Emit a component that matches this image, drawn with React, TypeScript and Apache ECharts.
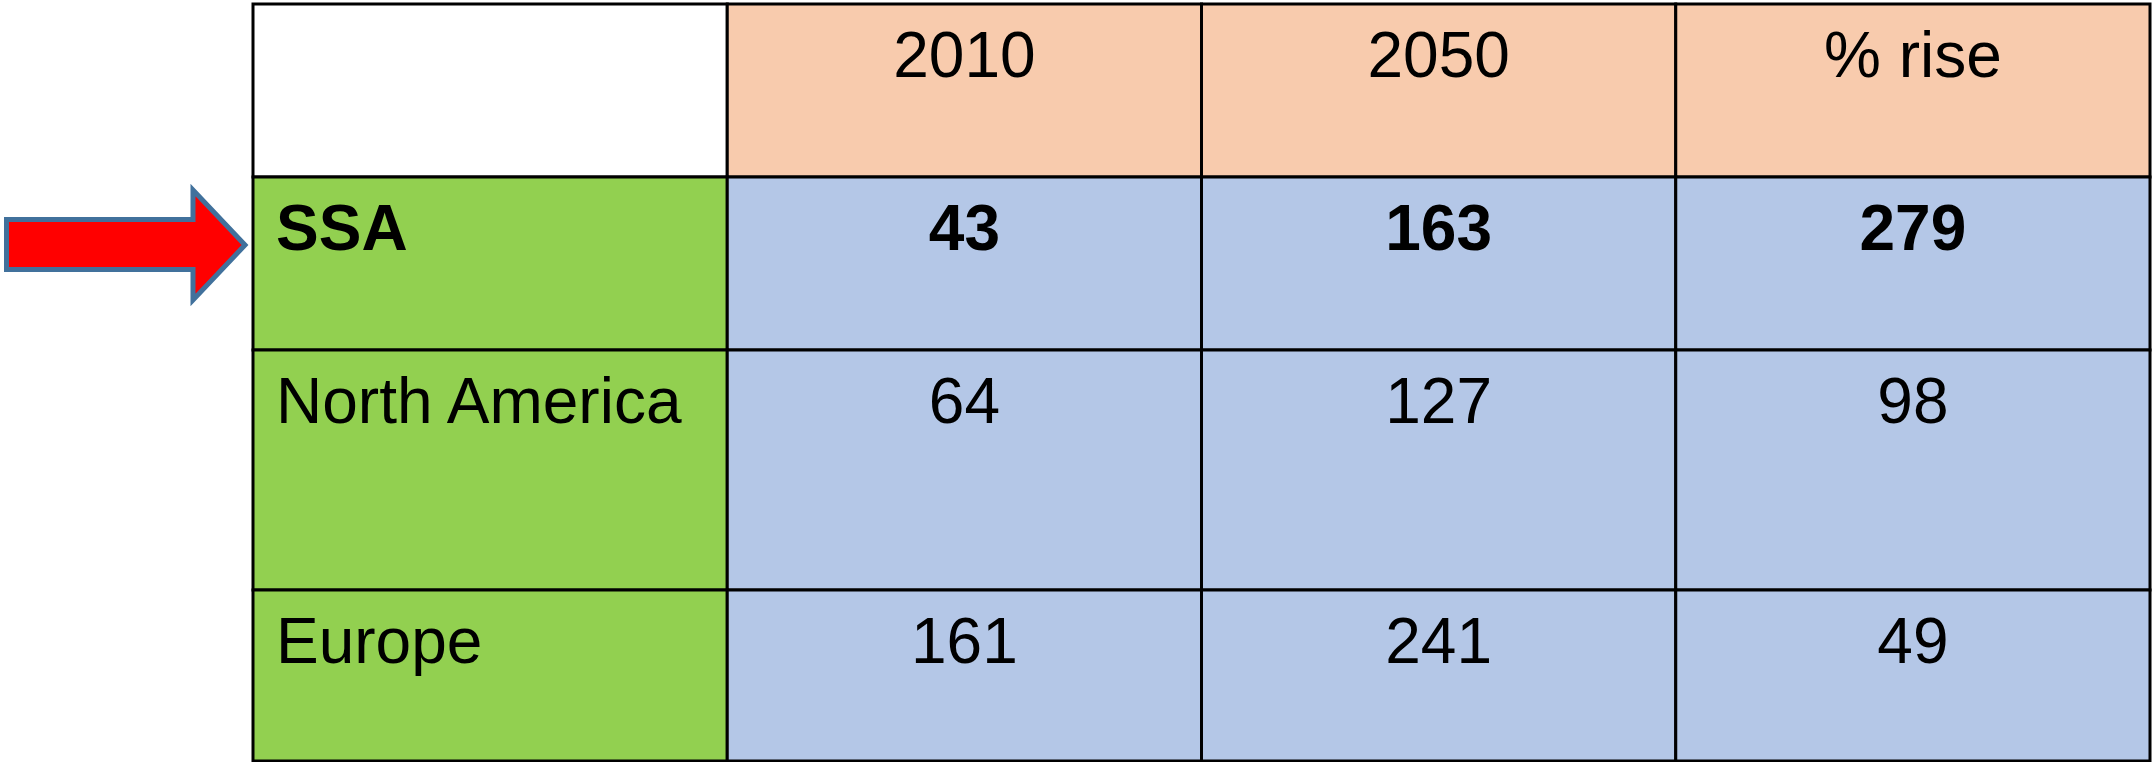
import React, { useEffect, useRef } from "react";
import * as echarts from "echarts";

// ---- data ----
const headerLabels = ["", "2010", "2050", "% rise"];
const regions = ["SSA", "North America", "Europe"];
const values2010 = [43, 64, 161];
const values2050 = [163, 127, 241];
const pctRise = [279, 98, 49];
const highlightedRegion = "SSA";

// ---- layout (relative row heights, not data) ----
const ROW_UNITS = [173, 173, 240, 171];
const ROW_EDGES = ROW_UNITS.reduce<number[]>((acc, h) => { acc.push(acc[acc.length - 1] + h); return acc; }, [0]);
const TOTAL_UNITS = ROW_EDGES[ROW_EDGES.length - 1];

const HEADER_FILL = "#F8CBAD";
const LABEL_FILL = "#92D050";
const VALUE_FILL = "#B4C7E7";
const FONT = "'Liberation Sans', Arial, Helvetica, sans-serif";

type Cell = { col: number; row: number; text: string; bold: boolean; fill: string; align: "left" | "center" };

function buildCells(): Cell[] {
  const cells: Cell[] = [];
  headerLabels.forEach((h, c) => {
    cells.push({ col: c, row: 0, text: h, bold: false, fill: c === 0 ? "#FFFFFF" : HEADER_FILL, align: "center" });
  });
  regions.forEach((r, i) => {
    const bold = r === highlightedRegion;
    const row = i + 1;
    cells.push({ col: 0, row, text: r, bold, fill: LABEL_FILL, align: "left" });
    cells.push({ col: 1, row, text: String(values2010[i]), bold, fill: VALUE_FILL, align: "center" });
    cells.push({ col: 2, row, text: String(values2050[i]), bold, fill: VALUE_FILL, align: "center" });
    cells.push({ col: 3, row, text: String(pctRise[i]), bold, fill: VALUE_FILL, align: "center" });
  });
  return cells;
}

export default function App() {
  const ref = useRef<HTMLDivElement>(null);

  useEffect(() => {
    document.body.style.margin = "0";
    if (!ref.current) return;
    const chart = echarts.init(ref.current, null, { renderer: "svg" });
    const cells = buildCells();

    const option: any = {
      animation: false,
      backgroundColor: "#FFFFFF",
      grid: { left: 253, top: 4, width: 1897, height: TOTAL_UNITS },
      xAxis: { type: "value", min: 0, max: headerLabels.length, show: false },
      yAxis: { type: "value", min: 0, max: TOTAL_UNITS, inverse: true, show: false },
      series: [
        {
          type: "custom",
          clip: false,
          data: cells.map((c) => [c.col, c.row]),
          renderItem: (params: any, api: any) => {
            const cell = cells[params.dataIndex];
            const col = api.value(0);
            const row = api.value(1);
            const tl = api.coord([col, ROW_EDGES[row]]);
            const br = api.coord([col + 1, ROW_EDGES[row + 1]]);
            const w = br[0] - tl[0];
            const h = br[1] - tl[1];
            const tx = cell.align === "left" ? tl[0] + 23 : tl[0] + w / 2;
            return {
              type: "group",
              children: [
                {
                  type: "rect",
                  shape: { x: tl[0], y: tl[1], width: w, height: h },
                  style: { fill: cell.fill, stroke: "#000000", lineWidth: 3 },
                },
                {
                  type: "text",
                  style: {
                    text: cell.text,
                    x: tx,
                    y: tl[1] + 51,
                    fill: "#000000",
                    fontSize: 64,
                    fontFamily: FONT,
                    fontWeight: cell.bold ? "bold" : "normal",
                    align: cell.align,
                    verticalAlign: "middle",
                  },
                  z2: 10,
                },
              ],
            };
          },
        },
      ],
      graphic: [
        {
          type: "polygon",
          shape: {
            points: [
              [6.5, 219.5],
              [193, 219.5],
              [193, 190],
              [245, 245],
              [193, 300],
              [193, 269.5],
              [6.5, 269.5],
            ],
          },
          style: { fill: "#FF0000", stroke: "#41719C", lineWidth: 5 },
          z: 100,
        },
      ],
    };
    chart.setOption(option);
    return () => chart.dispose();
  }, []);

  return <div ref={ref} style={{ position: "fixed", left: 0, top: 0, width: 2152, height: 762 }} />;
}
